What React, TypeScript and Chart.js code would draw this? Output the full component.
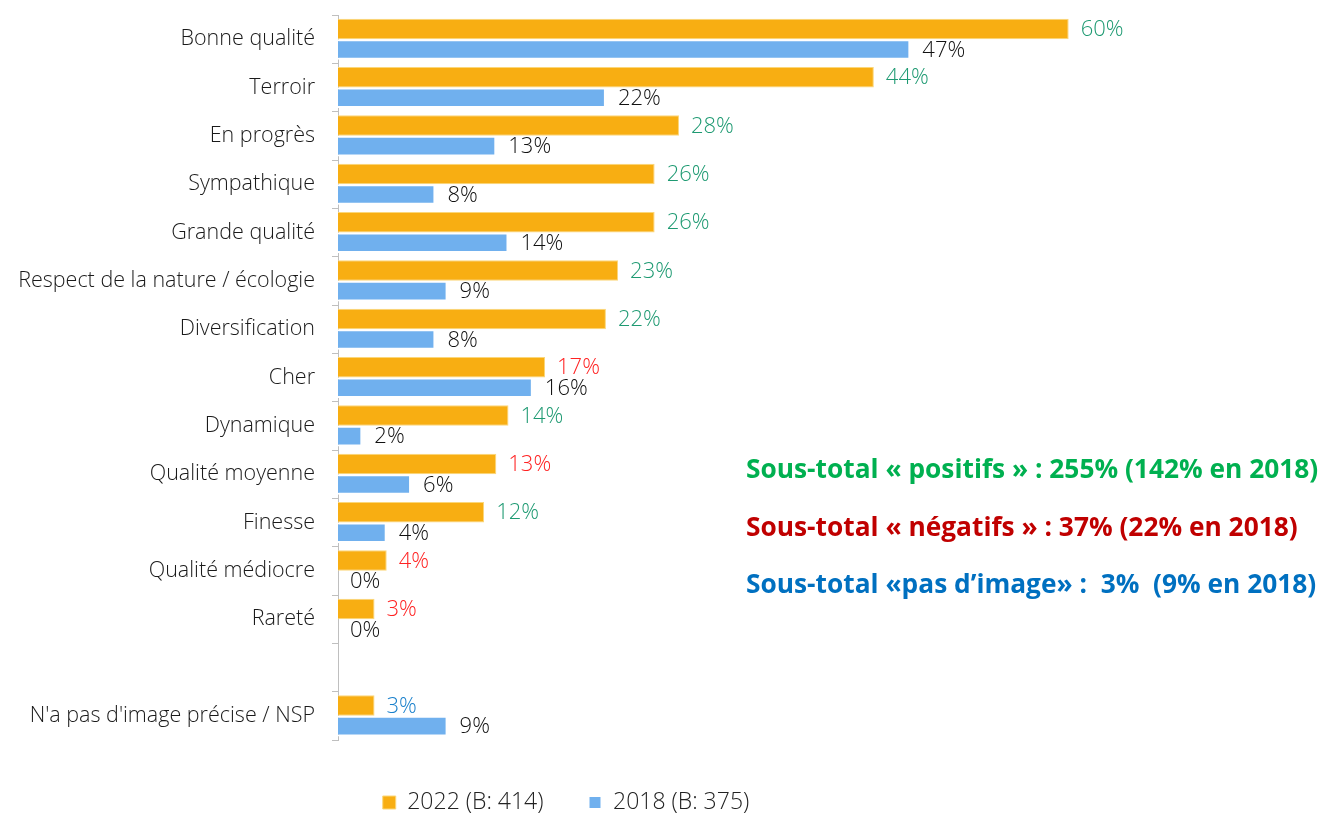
import React, { useEffect, useRef } from 'react';
import { Chart, registerables } from 'chart.js';

Chart.register(...registerables);

const FONT = '"Open Sans", "Noto Sans", "DejaVu Sans", sans-serif';

const categories = [
  'Bonne qualité',
  'Terroir',
  'En progrès',
  'Sympathique',
  'Grande qualité',
  'Respect de la nature / écologie',
  'Diversification',
  'Cher',
  'Dynamique',
  'Qualité moyenne',
  'Finesse',
  'Qualité médiocre',
  'Rareté',
  '',
  "N'a pas d'image précise / NSP",
];
const values2022: (number | null)[] = [60, 44, 28, 26, 26, 23, 22, 17, 14, 13, 12, 4, 3, null, 3];
const values2018: (number | null)[] = [47, 22, 13, 8, 14, 9, 8, 16, 2, 6, 4, 0, 0, null, 9];
const labelTone = ['pos', 'pos', 'pos', 'pos', 'pos', 'pos', 'pos', 'neg', 'pos', 'neg', 'pos', 'neg', 'neg', '', 'none'];
const seriesNames = ['2022 (B: 414)', '2018 (B: 375)'];
const subtotalLines = [
  'Sous-total « positifs » : 255% (142% en 2018)',
  'Sous-total « négatifs » : 37% (22% en 2018)',
  'Sous-total «pas d’image» :  3%  (9% en 2018)',
];

const toneColors: Record<string, string> = { pos: '#1E9A72', neg: '#FF2222', none: '#1A80CC' };
const subtotalColors = ['#00B050', '#C00000', '#0070C0'];
const subtotalY = [471, 529, 586];

const labelPlugin = {
  id: 'valueLabels',
  afterDatasetsDraw(chart: any) {
    const ctx = chart.ctx;
    ctx.save();
    ctx.font = `300 22px ${FONT}`;
    ctx.textBaseline = 'middle';
    ctx.textAlign = 'left';
    chart.data.datasets.forEach((ds: any, di: number) => {
      const meta = chart.getDatasetMeta(di);
      meta.data.forEach((el: any, i: number) => {
        const v = ds.data[i];
        if (v == null) return;
        ctx.fillStyle = di === 0 ? toneColors[labelTone[i]] : '#111111';
        ctx.fillText(`${v}%`, el.x + 12, el.y + 1);
      });
    });
    ctx.font = `bold 26.3px ${FONT}`;
    subtotalLines.forEach((t, k) => {
      ctx.fillStyle = subtotalColors[k];
      ctx.fillText(t, 746, subtotalY[k]);
    });
    ctx.restore();
  },
};

export default function App() {
  const ref = useRef<HTMLCanvasElement>(null);
  useEffect(() => {
    if (!ref.current) return;
    const chart = new Chart(ref.current, {
      type: 'bar',
      data: {
        labels: categories,
        datasets: [
          {
            label: seriesNames[0],
            data: values2022,
            backgroundColor: '#F8AE12',
            borderColor: '#FBD77A',
            borderWidth: 1,
            categoryPercentage: 0.85,
            barPercentage: 1,
          },
          {
            label: seriesNames[1],
            data: values2018,
            backgroundColor: '#70B0EE',
            borderColor: '#FFFFFF',
            borderWidth: 2,
            categoryPercentage: 0.85,
            barPercentage: 1,
          },
        ],
      },
      options: {
        indexAxis: 'y',
        responsive: false,
        animation: false,
        layout: { padding: { top: 15, left: 0, right: 190, bottom: -10 } },
        plugins: {
          legend: {
            position: 'bottom',
            labels: {
              boxWidth: 13,
              boxHeight: 13,
              padding: 45,
              color: '#222222',
              font: { size: 23, family: FONT, weight: '300' as any },
            },
          },
          tooltip: { enabled: false },
        },
        scales: {
          x: {
            type: 'linear',
            min: 0,
            max: 65.2,
            grid: { display: false },
            border: { display: false },
            ticks: { display: false },
            afterFit(s: any) {
              s.height = 6;
            },
          },
          y: {
            grid: { drawOnChartArea: false, tickLength: 6, color: '#BFBFBF' },
            border: { color: '#BFBFBF', width: 1 },
            ticks: {
              padding: 17,
              color: '#1A1A1A',
              font: { size: 21.5, family: FONT, weight: '300' as any },
            },
            afterFit(s: any) {
              s.width = 338;
              s.paddingTop = 0;
              s.paddingBottom = 0;
            },
          },
        },
      },
      plugins: [labelPlugin],
    });
    return () => chart.destroy();
  }, []);
  return (
    <div style={{ position: 'absolute', left: 0, top: 0, width: 1322, height: 814, background: '#fff' }}>
      <canvas ref={ref} width={1322} height={814} />
    </div>
  );
}
